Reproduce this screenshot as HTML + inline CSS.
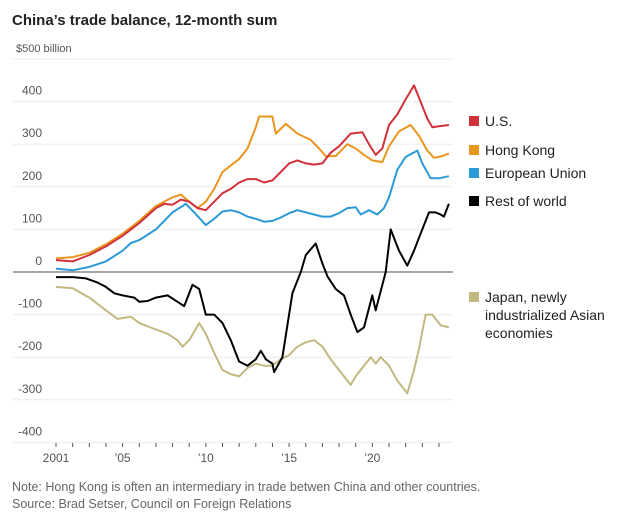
<!DOCTYPE html>
<html><head><meta charset="utf-8"><style>
body{margin:0;background:#fff;font-family:"Liberation Sans",sans-serif;}
svg text{font-family:"Liberation Sans",sans-serif;}
</style></head><body>
<svg id="c" width="624" height="527" viewBox="0 0 624 527">
<text x="12" y="25" font-size="15" font-weight="bold" fill="#222">China’s trade balance, 12-month sum</text>
<g id="grid"></g><g id="series"></g>
<g font-size="14" fill="#222">
<rect x="469" y="116" width="10" height="10" fill="#d0313a"/><text x="485" y="126">U.S.</text>
<rect x="469" y="145" width="10" height="10" fill="#e8961e"/><text x="485" y="155">Hong Kong</text>
<rect x="469" y="168" width="10" height="10" fill="#2b9ad6"/><text x="485" y="178">European Union</text>
<rect x="469" y="196" width="10" height="10" fill="#000"/><text x="485" y="206">Rest of world</text>
<rect x="469" y="292" width="10" height="10" fill="#c2b882"/><text x="485" y="302">Japan, newly</text>
<text x="485" y="320">industrialized Asian</text>
<text x="485" y="338">economies</text>
</g>
<text x="12" y="491" font-size="12.5" fill="#666">Note: Hong Kong is often an intermediary in trade betwen China and other countries.</text>
<text x="12" y="508" font-size="12.5" fill="#666">Source: Brad Setser, Council on Foreign Relations</text>
</svg>
<script>
const yTicks=[500,400,300,200,100,0,-100,-200,-300,-400];
const yTickLabels=["$500 billion","400","300","200","100","0","-100","-200","-300","-400"];
const xTickYears=[2001,2005,2010,2015,2020];
const xTickLabels=["2001","’05","’10","’15","’20"];
const usYears=[2001,2002,2003,2004,2005,2006,2007,2007.5,2008,2008.5,2009,2009.5,2010,2010.5,2011,2011.5,2012,2012.5,2013,2013.5,2014,2014.5,2015,2015.5,2016,2016.5,2017,2017.5,2018,2018.7,2019.4,2019.8,2020.2,2020.6,2021,2021.5,2022,2022.5,2022.9,2023.3,2023.6,2024,2024.6];
const usVals=[28,25,40,60,85,115,150,160,158,170,165,150,145,165,185,195,210,218,218,210,215,235,255,262,255,252,255,280,295,325,328,300,275,290,345,370,405,438,400,360,340,342,345];
const hkYears=[2001,2002,2003,2004,2005,2006,2007,2008,2008.5,2009,2009.5,2010,2010.5,2011,2011.5,2012,2012.5,2013,2013.2,2014,2014.2,2014.8,2015.5,2016.3,2016.8,2017.2,2017.8,2018.5,2019,2019.5,2020,2020.6,2021,2021.6,2022.3,2022.8,2023.3,2023.7,2024.2,2024.6];
const hkVals=[32,35,45,65,90,120,155,175,182,165,150,165,195,235,250,265,290,340,365,365,325,348,325,310,290,272,272,300,290,275,262,258,295,330,345,320,285,268,272,278];
const euYears=[2001,2002,2003,2004,2005,2005.5,2006,2007,2007.5,2008,2008.8,2009.3,2010,2010.5,2011,2011.5,2012,2012.5,2013,2013.5,2014,2014.5,2015,2015.5,2016,2016.5,2017,2017.5,2018,2018.5,2019,2019.3,2019.8,2020.3,2020.7,2021,2021.5,2022,2022.7,2023,2023.5,2024,2024.6];
const euVals=[8,4,12,25,50,68,75,100,120,140,160,140,110,125,142,145,140,130,125,118,120,128,138,145,140,135,130,130,138,150,152,135,145,135,150,175,240,270,285,255,220,220,225];
const rowYears=[2001,2002,2002.8,2003.5,2004,2004.5,2005,2005.7,2006,2006.5,2007,2007.7,2008.3,2008.7,2009.2,2009.6,2010,2010.5,2011,2011.5,2012,2012.5,2013,2013.3,2013.6,2014,2014.1,2014.6,2015.2,2015.7,2016,2016.6,2017,2017.3,2017.8,2018.3,2018.7,2019.1,2019.5,2020,2020.2,2020.8,2021.1,2021.6,2022.1,2022.5,2022.9,2023.4,2023.8,2024.1,2024.3,2024.6];
const rowVals=[-12,-12,-15,-25,-35,-50,-55,-60,-70,-68,-60,-55,-70,-80,-30,-40,-100,-100,-120,-160,-210,-220,-205,-185,-205,-215,-235,-200,-50,0,40,67,20,-10,-40,-55,-100,-141,-130,-55,-90,0,100,50,15,50,90,140,140,135,130,160];
const jpYears=[2001,2002,2003,2004,2004.7,2005.5,2006,2007,2007.7,2008.3,2008.6,2009,2009.6,2010,2010.5,2011,2011.5,2012,2012.5,2013,2013.5,2014,2014.5,2015,2015.5,2016,2016.5,2017,2017.5,2018,2018.7,2019,2019.5,2019.9,2020.2,2020.5,2021,2021.5,2022.1,2022.5,2022.8,2023.2,2023.6,2024.1,2024.6];
const jpVals=[-35,-38,-60,-90,-110,-105,-120,-135,-145,-160,-175,-160,-120,-145,-190,-230,-240,-245,-225,-215,-220,-220,-205,-195,-175,-165,-160,-175,-205,-230,-265,-245,-220,-200,-215,-200,-220,-255,-285,-230,-180,-100,-100,-125,-130];
const X=y=>56+(y-2001)*16.65, Y=v=>272-v*0.426;
const NS="http://www.w3.org/2000/svg";
const grid=document.getElementById('grid'), ser=document.getElementById('series');
yTicks.forEach((t,i)=>{
  const l=document.createElementNS(NS,'line');
  l.setAttribute('x1',13);l.setAttribute('x2',453);l.setAttribute('y1',Y(t));l.setAttribute('y2',Y(t));
  l.setAttribute('stroke',t===0?'#888':'#ececec');l.setAttribute('stroke-width',t===0?1.5:1);
  
  
  grid.appendChild(l);
  const tx=document.createElementNS(NS,'text');
  tx.setAttribute('x',i===0?16:42);tx.setAttribute('y',Y(t)-7);tx.setAttribute('font-size',i===0?11:12);
  tx.setAttribute('fill','#555');if(i>0)tx.setAttribute('text-anchor','end');
  tx.textContent=yTickLabels[i];
  
  
  grid.appendChild(tx);
});
for(let yr=2001;yr<=2024;yr++){
  const l=document.createElementNS(NS,'line');
  l.setAttribute('x1',X(yr));l.setAttribute('x2',X(yr));l.setAttribute('y1',443);l.setAttribute('y2',447);
  l.setAttribute('stroke','#555');
  
  
  grid.appendChild(l);
}
xTickYears.forEach((yr,i)=>{
  const tx=document.createElementNS(NS,'text');
  tx.setAttribute('x',X(yr));tx.setAttribute('y',462);tx.setAttribute('font-size',12);tx.setAttribute('fill','#555');tx.setAttribute('text-anchor','middle');
  tx.textContent=xTickLabels[i];
  
  
  grid.appendChild(tx);
});
function line(ys,vs,col,name){
  const p=document.createElementNS(NS,'polyline');
  p.setAttribute('points',ys.map((y,i)=>X(y).toFixed(1)+','+Y(vs[i]).toFixed(1)).join(' '));
  p.setAttribute('fill','none');p.setAttribute('stroke',col);p.setAttribute('stroke-width',2);p.setAttribute('stroke-linejoin','round');
  
  
  ser.appendChild(p);
}
line(jpYears,jpVals,'#c2b882','line-japan-nies');
line(euYears,euVals,'#2b9ad6','line-eu');
line(hkYears,hkVals,'#e8961e','line-hong-kong');
line(usYears,usVals,'#d0313a','line-us');
line(rowYears,rowVals,'#000','line-rest-of-world');
</script>
</body></html>
